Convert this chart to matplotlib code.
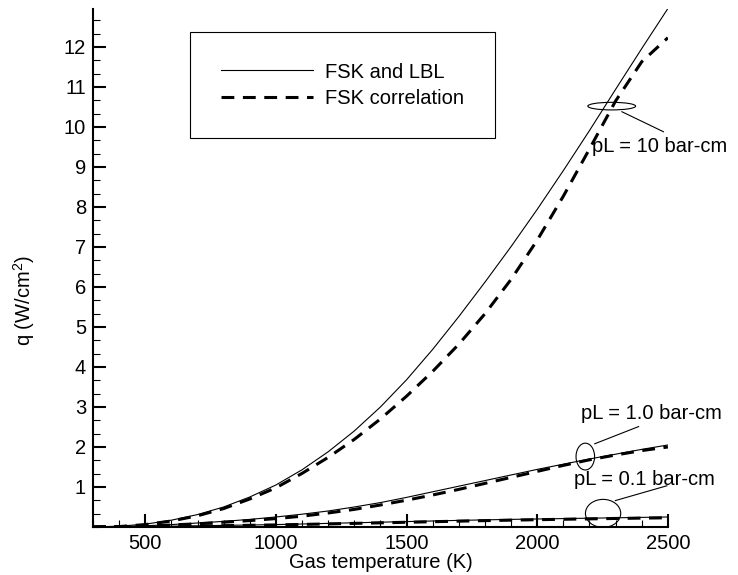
import matplotlib
matplotlib.use('Agg')
import matplotlib.pyplot as plt
from matplotlib.patches import Ellipse
from matplotlib.ticker import MultipleLocator

plt.rcParams['font.family'] = ['Liberation Sans', 'DejaVu Sans']
plt.rcParams['mathtext.default'] = 'regular'

# gas temperature (K)
temps = [300, 400, 500, 600, 700, 800, 900, 1000, 1100, 1200, 1300, 1400,
         1500, 1600, 1700, 1800, 1900, 2000, 2100, 2200, 2300, 2400, 2500]

# q (W/cm2), FSK and LBL (solid) / FSK correlation (dashed)
q10_lbl = [0.0, 0.02, 0.07, 0.17, 0.31, 0.5, 0.75, 1.05, 1.43, 1.88, 2.40, 3.00,
           3.68, 4.44, 5.26, 6.12, 7.01, 7.94, 8.91, 9.91, 10.94, 11.96, 12.96]
q10_cor = [0.0, 0.01, 0.06, 0.15, 0.28, 0.46, 0.7, 0.98, 1.34, 1.74, 2.19, 2.70,
           3.27, 3.89, 4.57, 5.33, 6.19, 7.17, 8.27, 9.45, 10.65, 11.63, 12.23]
q1_lbl = [0.0, 0.01, 0.03, 0.06, 0.10, 0.14, 0.19, 0.25, 0.32, 0.40, 0.50, 0.61,
          0.74, 0.88, 1.02, 1.16, 1.30, 1.44, 1.57, 1.70, 1.82, 1.94, 2.05]
q1_cor = [0.0, 0.01, 0.02, 0.05, 0.08, 0.12, 0.16, 0.21, 0.27, 0.35, 0.44, 0.55,
          0.67, 0.80, 0.94, 1.09, 1.24, 1.39, 1.54, 1.68, 1.80, 1.91, 2.0]
q01_lbl = [0.0, 0.005, 0.01, 0.02, 0.03, 0.04, 0.05, 0.06, 0.075, 0.09, 0.105, 0.12,
           0.135, 0.15, 0.165, 0.178, 0.19, 0.2, 0.21, 0.22, 0.23, 0.24, 0.25]
q01_cor = [0.0, 0.004, 0.008, 0.015, 0.024, 0.033, 0.042, 0.052, 0.064, 0.077, 0.09, 0.104,
           0.118, 0.132, 0.146, 0.159, 0.171, 0.182, 0.193, 0.203, 0.213, 0.222, 0.23]

# labels: text, ellipse (T, q, w, h), leader start, leader end, text anchor
notes = [
    ('pL = 10 bar-cm', (2285, 10.52, 183, 0.19), (2324, 10.38), (2483, 9.88), (2208, 9.51)),
    ('pL = 1.0 bar-cm', (2184, 1.76, 71, 0.67), (2220, 2.08), (2388, 2.51), (2169, 2.84)),
    ('pL = 0.1 bar-cm', (2252, 0.34, 135, 0.70), (2299, 0.66), (2496, 1.03), (2140, 1.18)),
]

fig = plt.figure(figsize=(7.38, 5.75), dpi=100)
ax = fig.add_axes([0.126, 0.0835, 0.779, 0.9003])

thin = dict(color='black', lw=0.8)
dash = dict(color='black', lw=2.2, dashes=(4.2, 2.8))

ax.plot(temps, q10_lbl, label='FSK and LBL', **thin)
ax.plot(temps, q10_cor, label='FSK correlation', **dash)
ax.plot(temps, q1_lbl, **thin)
ax.plot(temps, q1_cor, **dash)
ax.plot(temps, q01_lbl, **thin)
ax.plot(temps, q01_cor, **dash)

for txt, (ex, ey, ew, eh), p0, p1, tpos in notes:
    ax.add_patch(Ellipse((ex, ey), ew, eh, fill=False, ec='black', lw=0.8))
    ax.plot([p0[0], p1[0]], [p0[1], p1[1]], color='black', lw=0.8, clip_on=False)
    ax.text(tpos[0], tpos[1], txt, fontsize=14.5, ha='left', va='center')

ax.set_xlim(300, 2500)
ax.set_ylim(0, 12.94)
ax.set_xticks([500, 1000, 1500, 2000, 2500])
ax.set_yticks(range(1, 13))
ax.xaxis.set_minor_locator(MultipleLocator(100))
ax.yaxis.set_minor_locator(MultipleLocator(1 / 3))

ax.spines['top'].set_visible(False)
ax.spines['right'].set_visible(False)
ax.spines['left'].set_linewidth(1.5)
ax.spines['bottom'].set_linewidth(1.5)
ax.tick_params(which='major', direction='in', length=9.5, width=1.5,
               labelsize=14.5, pad=5)
ax.tick_params(which='minor', direction='in', length=5, width=0.8)

ax.set_xlabel('Gas temperature (K)', fontsize=14.5, labelpad=0)
ax.set_ylabel('q (W/cm$^2$)', fontsize=14.5)
ax.yaxis.set_label_coords(-0.12, 0.438)
ax.yaxis.label.set_va('center')

leg = ax.legend(loc='upper left', bbox_to_anchor=(0.152, 0.975), fontsize=14.5,
                handlelength=4.6, handletextpad=0.6, labelspacing=0.35,
                borderpad=1.5, fancybox=False, framealpha=1)
leg.get_frame().set_edgecolor('black')
leg.get_frame().set_linewidth(0.8)

plt.savefig('out.png', dpi=100)
plt.close()
